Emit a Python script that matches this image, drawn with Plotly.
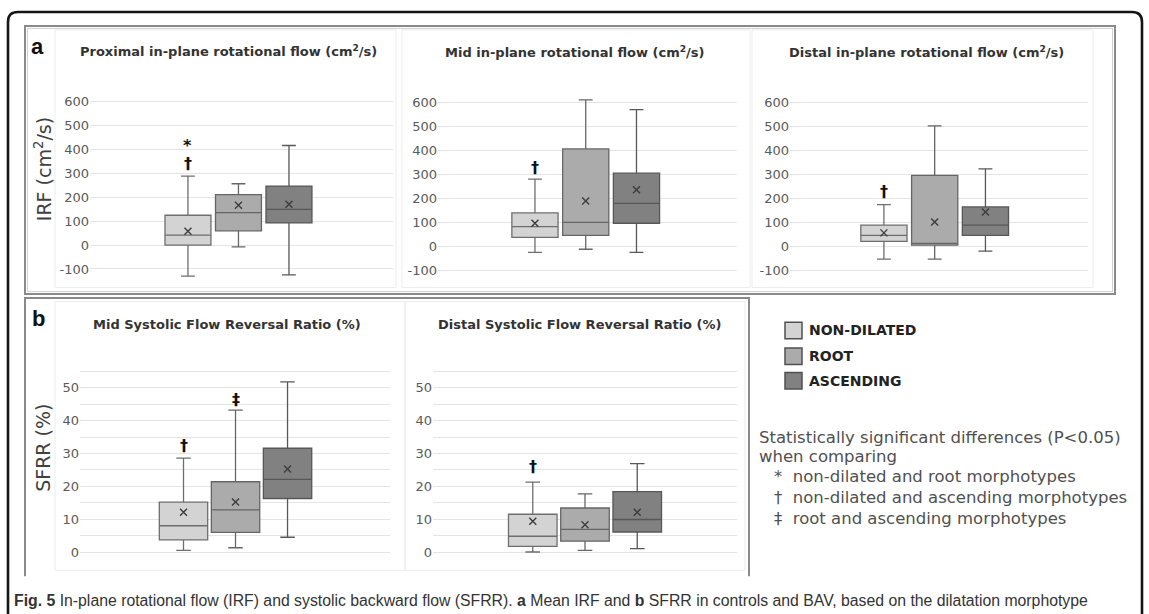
import plotly.graph_objects as go

# ---- data ---------------------------------------------------------------
groups = ["NON-DILATED", "ROOT", "ASCENDING"]

# Proximal in-plane rotational flow (cm2/s)
prox_low = [-130, -7, -125]
prox_q1 = [0, 60, 93]
prox_med = [42, 136, 150]
prox_q3 = [125, 211, 247]
prox_high = [289, 257, 417]
prox_mean = [58, 167, 171]

# Mid in-plane rotational flow (cm2/s)
mid_low = [-23, -10, -23]
mid_q1 = [39, 48, 98]
mid_med = [84, 102, 181]
mid_q3 = [141, 407, 306]
mid_high = [281, 611, 570]
mid_mean = [98, 190, 237]

# Distal in-plane rotational flow (cm2/s)
dist_low = [-51, -51, -18]
dist_q1 = [23, 7, 48]
dist_med = [48, 14, 90]
dist_q3 = [90, 297, 166]
dist_high = [175, 503, 324]
dist_mean = [58, 103, 145]

# Mid systolic flow reversal ratio (%)
sfrr_mid_low = [0.5, 1.3, 4.5]
sfrr_mid_q1 = [3.7, 6.0, 16.3]
sfrr_mid_med = [8.0, 12.8, 22.1]
sfrr_mid_q3 = [15.2, 21.4, 31.6]
sfrr_mid_high = [28.6, 43.2, 51.8]
sfrr_mid_mean = [12.1, 15.2, 25.3]

# Distal systolic flow reversal ratio (%)
sfrr_dist_low = [0.0, 0.5, 1.0]
sfrr_dist_q1 = [1.7, 3.3, 6.1]
sfrr_dist_med = [4.8, 6.9, 9.9]
sfrr_dist_q3 = [11.5, 13.4, 18.4]
sfrr_dist_high = [21.3, 17.7, 26.9]
sfrr_dist_mean = [9.4, 8.3, 12.1]

# significance marks: (panel index, group index, symbol, value)
sig_marks = [
    (0, 0, "*", 417), (0, 0, "†", 343),
    (1, 0, "†", 331),
    (2, 0, "†", 228),
    (3, 0, "†", 32.3), (3, 1, "‡", 46.5),
    (4, 0, "†", 26.0),
]

irf_ticks = [-100, 0, 100, 200, 300, 400, 500, 600]
irf_tick_labels = ["-100", "0", "100", "200", "300", "400", "500", "600"]
sfrr_ticks = [0, 10, 20, 30, 40, 50]
sfrr_tick_labels = ["0", "10", "20", "30", "40", "50"]
sfrr_minor_ticks = [5, 15, 25, 35, 45, 55]

titles = [
    "Proximal in-plane rotational flow (cm<sup>2</sup>/s)",
    "Mid in-plane rotational flow (cm<sup>2</sup>/s)",
    "Distal in-plane rotational flow (cm<sup>2</sup>/s)",
    "Mid Systolic Flow Reversal Ratio (%)",
    "Distal Systolic Flow Reversal Ratio (%)",
]

# ---- styling / layout ---------------------------------------------------
W, H = 1149, 614
fills = ["#d3d3d3", "#ababab", "#818181"]
edges = ["#6e6e6e", "#666666", "#575757"]
FONT = "DejaVu Sans"
GRID = "#e4e4e4"


def px(x):
    return x / W


def py(y):
    return 1 - y / H


panels = [
    dict(stats=(prox_low, prox_q1, prox_med, prox_q3, prox_high, prox_mean),
         xpix=(90, 393), xr=(-1.94, 4.06), ypix=(94.5, 279.3), yr=(-150, 620),
         ticks=(irf_ticks, irf_tick_labels), minor=None, width=0.91, title_xy=(228, 48)),
    dict(stats=(mid_low, mid_q1, mid_med, mid_q3, mid_high, mid_mean),
         xpix=(438, 737), xr=(-1.91, 3.98), ypix=(95.1, 281.3), yr=(-150, 620),
         ticks=(irf_ticks, irf_tick_labels), minor=None, width=0.91, title_xy=(574, 49)),
    dict(stats=(dist_low, dist_q1, dist_med, dist_q3, dist_high, dist_mean),
         xpix=(790, 1088), xr=(-1.85, 4.02), ypix=(95.1, 281.3), yr=(-150, 620),
         ticks=(irf_ticks, irf_tick_labels), minor=None, width=0.91, title_xy=(926, 49)),
    dict(stats=(sfrr_mid_low, sfrr_mid_q1, sfrr_mid_med, sfrr_mid_q3, sfrr_mid_high, sfrr_mid_mean),
         xpix=(80, 390), xr=(-1.99, 3.97), ypix=(366.9, 561.6), yr=(-3, 56),
         ticks=(sfrr_ticks, sfrr_tick_labels), minor=sfrr_minor_ticks, width=0.93,
         title_xy=(227, 323)),
    dict(stats=(sfrr_dist_low, sfrr_dist_q1, sfrr_dist_med, sfrr_dist_q3, sfrr_dist_high, sfrr_dist_mean),
         xpix=(433, 737), xr=(-1.91, 3.91), ypix=(366.9, 561.6), yr=(-3, 56),
         ticks=(sfrr_ticks, sfrr_tick_labels), minor=sfrr_minor_ticks, width=0.93,
         title_xy=(579, 323)),
]

fig = go.Figure()
annotations = []
shapes = []
layout_axes = {}

for i, p in enumerate(panels):
    s = "" if i == 0 else str(i + 1)
    low, q1, med, q3, high, mean = p["stats"]
    for j in range(3):
        fig.add_trace(go.Box(
            x=[j], q1=[q1[j]], median=[med[j]], q3=[q3[j]],
            lowerfence=[low[j]], upperfence=[high[j]],
            width=p["width"], whiskerwidth=0.3, boxpoints=False,
            fillcolor=fills[j], line=dict(color=edges[j], width=1.3),
            name=groups[j], showlegend=False, hoverinfo="skip",
            xaxis="x" + s, yaxis="y" + s,
        ))
    fig.add_trace(go.Scatter(
        x=[0, 1, 2], y=mean, mode="markers",
        marker=dict(symbol="x-thin", size=7, line=dict(width=1.4, color="#3c3c3c")),
        showlegend=False, hoverinfo="skip", xaxis="x" + s, yaxis="y" + s,
    ))
    tv, tt = p["ticks"]
    yax = dict(
        domain=[py(p["ypix"][1]), py(p["ypix"][0])], range=list(p["yr"]),
        anchor="x" + s, tickvals=tv, ticktext=tt, showgrid=True,
        gridcolor=GRID, gridwidth=1, zeroline=False, showline=False,
        ticks="", tickfont=dict(family=FONT, size=13, color="#5a5a5a"),
        fixedrange=True)
    if p["minor"]:
        yax["minor"] = dict(tickvals=p["minor"], showgrid=True, gridcolor=GRID,
                            gridwidth=1, ticks="")
    layout_axes["yaxis" + s] = yax
    layout_axes["xaxis" + s] = dict(
        domain=[px(p["xpix"][0]), px(p["xpix"][1])], range=list(p["xr"]),
        visible=False, anchor="y" + s, fixedrange=True)
    tx, ty = p["title_xy"]
    annotations.append(dict(
        x=px(tx), y=py(ty), xref="paper", yref="paper", showarrow=False,
        text="<b>" + titles[i] + "</b>", xanchor="center", yanchor="middle",
        font=dict(family=FONT, size=13, color="#333333")))

for (pi, gj, sym, val) in sig_marks:
    s = "" if pi == 0 else str(pi + 1)
    annotations.append(dict(
        x=gj, y=val, xref="x" + s, yref="y" + s, showarrow=False, text="<b>" + sym + "</b>",
        xanchor="center", yanchor="middle",
        font=dict(family=FONT, size=16, color="#111111")))

# axis titles
annotations.append(dict(x=px(43), y=py(167), xref="paper", yref="paper", showarrow=False,
                        text="IRF (cm<sup>2</sup>/s)", textangle=-90,
                        xanchor="center", yanchor="middle",
                        font=dict(family=FONT, size=19, color="#404040")))
annotations.append(dict(x=px(43), y=py(447), xref="paper", yref="paper", showarrow=False,
                        text="SFRR (%)", textangle=-90,
                        xanchor="center", yanchor="middle",
                        font=dict(family=FONT, size=19, color="#404040")))

# panel letters
for letter, (lx, ly) in (("a", (37, 44)), ("b", (38, 317))):
    annotations.append(dict(x=px(lx), y=py(ly), xref="paper", yref="paper", showarrow=False,
                            text="<b>" + letter + "</b>", xanchor="center", yanchor="middle",
                            font=dict(family="Liberation Sans", size=22, color="#111111")))

# legend
legend_rows = [(329, "NON-DILATED"), (355, "ROOT"), (379.5, "ASCENDING")]
for j, (ry, label) in enumerate(legend_rows):
    shapes.append(dict(type="rect", xref="paper", yref="paper",
                       x0=px(785), x1=px(802), y0=py(ry + 8.3), y1=py(ry - 8.3),
                       fillcolor=fills[j], line=dict(color="#505050", width=1.5)))
    annotations.append(dict(x=px(807), y=py(ry), xref="paper", yref="paper", showarrow=False,
                            text="<b>" + label + "</b>", xanchor="left", yanchor="middle",
                            font=dict(family=FONT, size=14, color="#222222")))

# significance key
key_lines = [
    (757, 437, "Statistically significant differences (P<0.05)"),
    (757, 456, "when comparing"),
    (772, 476, "*  non-dilated and root morphotypes"),
    (772, 497, "†  non-dilated and ascending morphotypes"),
    (772, 518, "‡  root and ascending morphotypes"),
]
for kx, ky, txt in key_lines:
    annotations.append(dict(x=px(kx), y=py(ky), xref="paper", yref="paper", showarrow=False,
                            text=txt, xanchor="left", yanchor="middle",
                            font=dict(family=FONT, size=16.5, color="#505050")))

# caption
annotations.append(dict(
    x=px(12), y=py(600), xref="paper", yref="paper", showarrow=False, xanchor="left",
    yanchor="middle",
    text="<b>Fig. 5</b> In-plane rotational flow (IRF) and systolic backward flow (SFRR). "
         "<b>a</b> Mean IRF and <b>b</b> SFRR in controls and BAV, based on the dilatation morphotype",
    font=dict(family="Liberation Sans", size=15.8, color="#333333")))

# chart-area outlines
for (x0, y0, x1, y1) in [(55, 27, 396, 286), (402, 27, 750, 286), (752, 27, 1093, 286),
                         (55, 300, 405, 570), (405, 300, 745, 570)]:
    shapes.append(dict(type="rect", xref="paper", yref="paper",
                       x0=px(x0), x1=px(x1), y0=py(y1), y1=py(y0),
                       line=dict(color="#ececec", width=1), layer="below"))

# panel a outline (double line)
shapes.append(dict(type="rect", xref="paper", yref="paper",
                   x0=px(25), x1=px(1115), y0=py(292.5), y1=py(23),
                   line=dict(color="#8a8a8a", width=2)))
shapes.append(dict(type="rect", xref="paper", yref="paper",
                   x0=px(27.5), x1=px(1112.5), y0=py(290), y1=py(25.5),
                   line=dict(color="#d0d0d0", width=1)))
# panel b outline (open at the bottom)
shapes.append(dict(type="path", xref="paper", yref="paper",
                   path=f"M {px(25)},{py(576)} L {px(25)},{py(296.5)} L {px(749)},{py(296.5)} L {px(749)},{py(576)}",
                   line=dict(color="#8a8a8a", width=2)))

# outer figure frame with rounded top corners
r = 10
frame_path = (f"M {px(8)},{py(640)} L {px(8)},{py(9 + r)} Q {px(8)},{py(9)} {px(8 + r)},{py(9)} "
              f"L {px(1142 - r)},{py(9)} Q {px(1142)},{py(9)} {px(1142)},{py(9 + r)} "
              f"L {px(1142)},{py(640)}")
shapes.append(dict(type="path", xref="paper", yref="paper", path=frame_path,
                   line=dict(color="#151515", width=2.6)))

fig.update_layout(
    width=W, height=H, margin=dict(l=0, r=0, t=0, b=0),
    paper_bgcolor="white", plot_bgcolor="white",
    annotations=annotations, shapes=shapes, showlegend=False,
    **layout_axes,
)

fig.write_html("out.html")
